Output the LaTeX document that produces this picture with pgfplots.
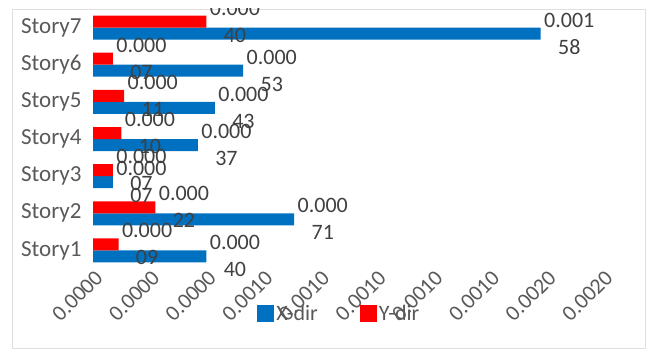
\documentclass[border=0pt]{standalone}
\usepackage{pgfplots}
\pgfplotsset{compat=1.18}
\usepackage{fontspec}
\setmainfont{Carlito}
\definecolor{xblue}{HTML}{0070C0}
\definecolor{yred}{HTML}{FF0000}
\definecolor{txt}{HTML}{595959}
\definecolor{lbl}{HTML}{404040}
\begin{document}
\begin{tikzpicture}
\path[use as bounding box] (0pt,0pt) rectangle (648pt,350pt);
\draw[gray!25, line width=0.8pt] (12pt,2pt) rectangle (645pt,341pt);
\begin{scope}
\clip (12pt,2pt) rectangle (645pt,341pt);
\begin{axis}[
  at={(93pt,81pt)}, anchor=south west,
  scale only axis, width=510pt, height=260pt,
  xbar, bar width=12pt, clip=false,
  xmin=0, xmax=0.0018, ymin=0.5, ymax=7.5,
  scaled x ticks=false,
  ytick={1,2,3,4,5,6,7},
  yticklabels={Story1,Story2,Story3,Story4,Story5,Story6,Story7},
  xtick={0,0.0002,0.0004,0.0006,0.0008,0.0010,0.0012,0.0014,0.0016,0.0018},
  xticklabels={0.0000,0.0000,0.0000,0.0010,0.0010,0.0010,0.0010,0.0010,0.0020,0.0020},
  axis line style={draw=none}, major tick length=0pt,
  xticklabel style={rotate=45, anchor=east, font=\fontsize{22}{26}\selectfont, text=txt, xshift=4pt, yshift=-8pt},
  yticklabel style={font=\fontsize{23}{26}\selectfont, text=txt, xshift=-8pt},
  nodes near coords={\pgfplotspointmeta},
  point meta=explicit symbolic,
  nodes near coords style={font=\fontsize{22}{27}\selectfont, text=lbl, align=center, anchor=west},
  legend style={at={(axis description cs:0.483,-0.173)}, anchor=center, legend columns=2,
    draw=none, fill=none, font=\fontsize{22}{26}\selectfont, text=txt,
    /tikz/every even column/.append style={column sep=40pt}},
]
\addplot[fill=xblue, draw=none, bar shift=-6pt,
  legend image code/.code={\fill[xblue] (0pt,-8.5pt) rectangle (17pt,8.5pt);}]
coordinates {
(0.00040,1) [0.000\\40]
(0.00071,2) [0.000\\71]
(0.00007,3) [0.000\\07]
(0.00037,4) [0.000\\37]
(0.00043,5) [0.000\\43]
(0.00053,6) [0.000\\53]
(0.00158,7) [0.001\\58]
};
\addlegendentry{X-dir}
\addplot[fill=yred, draw=none, bar shift=6pt,
  legend image code/.code={\fill[yred] (0pt,-8.5pt) rectangle (17pt,8.5pt);}]
coordinates {
(0.00009,1) [0.000\\09]
(0.00022,2) [0.000\\22]
(0.00007,3) [0.000\\07]
(0.00010,4) [0.000\\10]
(0.00011,5) [0.000\\11]
(0.00007,6) [0.000\\07]
(0.00040,7) [0.000\\40]
};
\addlegendentry{Y-dir}
\end{axis}
\end{scope}
\end{tikzpicture}
\end{document}
